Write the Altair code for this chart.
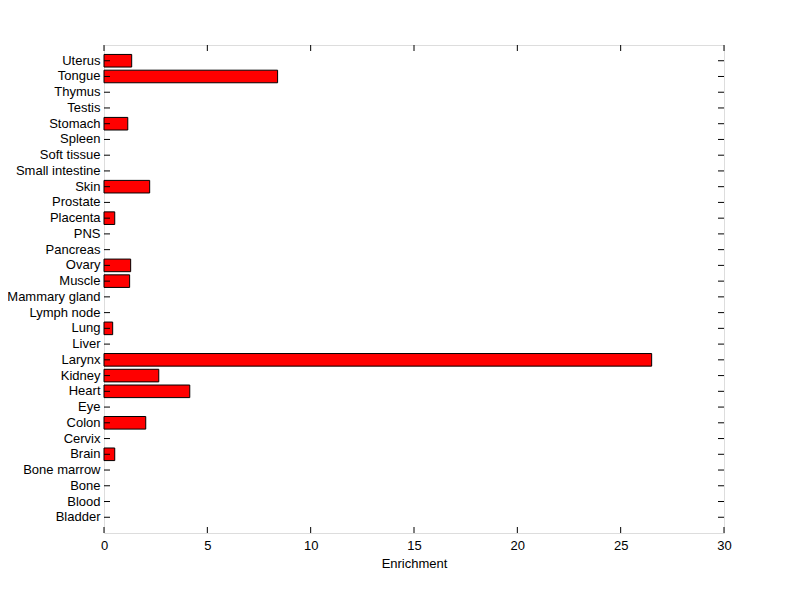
import altair as alt
import pandas as pd

tissues = ["Bladder", "Blood", "Bone", "Bone marrow", "Brain", "Cervix", "Colon", "Eye",
           "Heart", "Kidney", "Larynx", "Liver", "Lung", "Lymph node", "Mammary gland",
           "Muscle", "Ovary", "Pancreas", "PNS", "Placenta", "Prostate", "Skin",
           "Small intestine", "Soft tissue", "Spleen", "Stomach", "Testis", "Thymus",
           "Tongue", "Uterus"]
enrichment = [0, 0, 0, 0, 0.52, 0, 2.02, 0,
              4.15, 2.65, 26.5, 0, 0.42, 0, 0,
              1.24, 1.29, 0, 0, 0.52, 0, 2.21,
              0, 0, 0, 1.15, 0, 0,
              8.40, 1.34]
xticks = [0, 5, 10, 15, 20, 25, 30]

order = list(reversed(tissues))
df = pd.DataFrame({"tissue": tissues, "enrichment": enrichment})
df_bars = df[df["enrichment"] > 0]
df_ticks = pd.DataFrame({"v": xticks})

W, H = 620, 488
FONT = "Liberation Sans"
FS = 13

yscale = alt.Scale(domain=order, paddingInner=0.2, paddingOuter=0.6)
xscale = alt.Scale(domain=[0, 30], nice=False)

bars = alt.Chart(df_bars).mark_bar(color="#FF0000", stroke="black", strokeWidth=1).encode(
    x=alt.X("enrichment:Q", scale=xscale,
            axis=alt.Axis(title="Enrichment", values=xticks, ticks=False, domain=False,
                          grid=False, labelPadding=6, labelFontSize=FS, labelFont=FONT,
                          labelFlush=False,
                          titleFont=FONT, titleFontSize=FS, titleFontWeight="normal",
                          titlePadding=5, labelColor="black", titleColor="black")),
    y=alt.Y("tissue:N", scale=yscale, sort=order,
            axis=alt.Axis(title=None, ticks=False, domain=False, grid=False,
                          labelPadding=4, labelFontSize=FS, labelFont=FONT,
                          labelColor="black")),
)

ytick_l = alt.Chart(df).mark_rule(color="black", strokeWidth=1).encode(
    y=alt.Y("tissue:N", scale=yscale, sort=order),
    x=alt.value(0), x2=alt.value(6))
ytick_r = alt.Chart(df).mark_rule(color="black", strokeWidth=1).encode(
    y=alt.Y("tissue:N", scale=yscale, sort=order),
    x=alt.value(W - 6), x2=alt.value(W))
xtick_b = alt.Chart(df_ticks).mark_rule(color="black", strokeWidth=1).encode(
    x=alt.X("v:Q", scale=xscale), y=alt.value(H - 6), y2=alt.value(H))
xtick_t = alt.Chart(df_ticks).mark_rule(color="black", strokeWidth=1).encode(
    x=alt.X("v:Q", scale=xscale), y=alt.value(0), y2=alt.value(6))

chart = alt.layer(bars, ytick_l, ytick_r, xtick_b, xtick_t).properties(
    width=W, height=H,
    autosize=alt.AutoSizeParams(type="none"),
    padding={"left": 96, "top": 37, "right": 60, "bottom": 60},
).configure_view(stroke="black", strokeWidth=1).configure(background="white")

chart.save("out.html", embed_options={"renderer": "svg", "actions": False})
